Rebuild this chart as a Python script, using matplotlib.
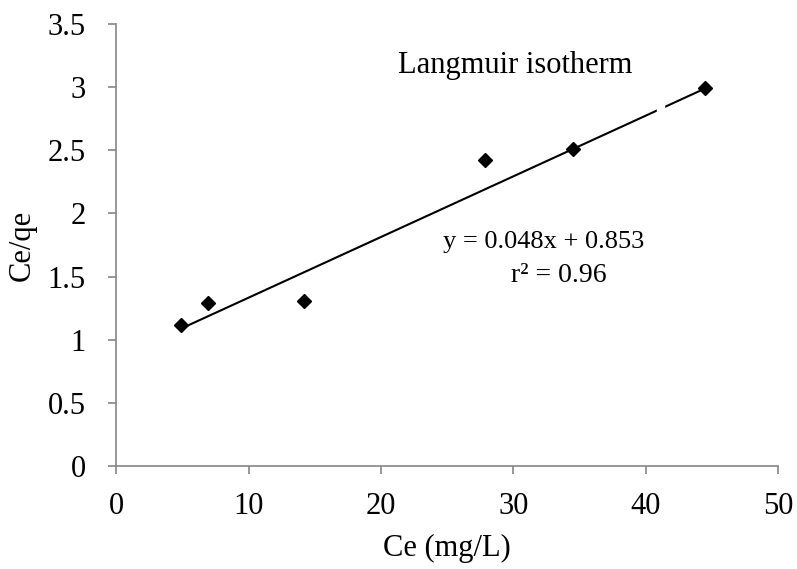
import numpy as np
import matplotlib.pyplot as plt
from matplotlib.patches import Rectangle

# data
ce = [4.9, 6.9, 14.2, 27.9, 34.5, 44.5]
ce_qe = [1.12, 1.29, 1.31, 2.42, 2.51, 2.99]
slope = 0.048
intercept = 0.853

plt.rcParams['font.family'] = ['Liberation Serif', 'DejaVu Serif']

fig = plt.figure(figsize=(7.97, 5.69), dpi=100)
ax = fig.add_axes([0.146, 0.181, 0.830, 0.777])

xfit = np.array([min(ce), max(ce)])
ax.plot(xfit, slope * xfit + intercept, color='black', lw=1.5, zorder=2)
# small gap in the trendline, as in the original
ax.add_patch(Rectangle((40.9, 2.7), 0.5, 0.3, color='white', zorder=3))
ax.plot(ce, ce_qe, 'D', color='black', markersize=7, zorder=4)

ax.set_xlim(0, 50)
ax.set_ylim(0, 3.5)
ax.set_xticks(range(0, 51, 10))
ax.set_yticks(np.arange(0, 3.51, 0.5))
ax.set_yticklabels(['0', '0.5', '1', '1.5', '2', '2.5', '3', '3.5'])

for s in ['top', 'right']:
    ax.spines[s].set_visible(False)
for s in ['left', 'bottom']:
    ax.spines[s].set_color('#868686')
    ax.spines[s].set_linewidth(1.2)
ax.tick_params(direction='out', length=6, width=1.2, color='#868686',
               labelsize=22)
ax.tick_params(axis='y', pad=16)
ax.tick_params(axis='x', pad=13)

ax.set_xlabel('Ce (mg/L)', fontsize=22, labelpad=9)
ax.set_ylabel('Ce/qe', fontsize=22, labelpad=8)

ax.text(0.603, 0.905, 'Langmuir isotherm', transform=ax.transAxes,
        fontsize=22, ha='center', va='center')
ax.text(0.494, 0.507, 'y = 0.048x + 0.853', transform=ax.transAxes,
        fontsize=19, ha='left', va='center')
ax.text(0.597, 0.43, 'r² = 0.96', transform=ax.transAxes,
        fontsize=20, ha='left', va='center')

fig.savefig('out.png', dpi=100)
